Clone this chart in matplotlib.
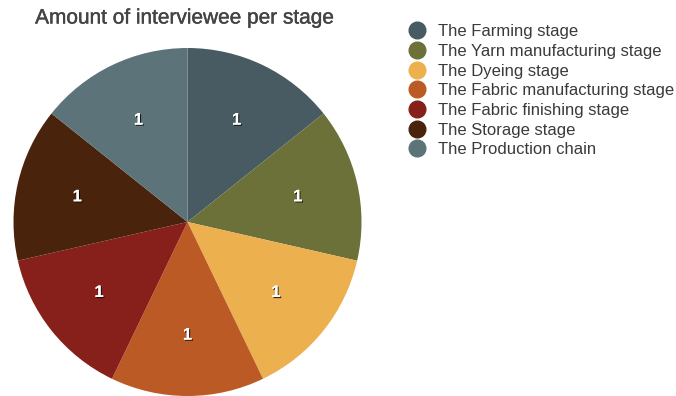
import matplotlib.pyplot as plt
import matplotlib.patheffects as pe
from matplotlib.lines import Line2D

plt.rcParams['font.family'] = ['Liberation Sans', 'DejaVu Sans']

# ---------------------------
# Data
# ---------------------------
stages = [
    "The Farming stage",
    "The Yarn manufacturing stage",
    "The Dyeing stage",
    "The Fabric manufacturing stage",
    "The Fabric finishing stage",
    "The Storage stage",
    "The Production chain",
]
interviewees = [1, 1, 1, 1, 1, 1, 1]
colors = ["#485b62", "#6b7139", "#edb04e", "#bb5a25", "#871f1a", "#4a230c", "#5c737a"]

# ---------------------------
# Figure
# ---------------------------
fig = plt.figure(figsize=(6.76, 3.96), dpi=100)
ax = fig.add_axes([13.5 / 676, 0, 348 / 676, 348 / 396])

wedges, texts = ax.pie(
    interviewees,
    colors=colors,
    labels=[str(v) for v in interviewees],
    labeldistance=0.65,
    startangle=90,
    counterclock=False,
    wedgeprops=dict(linewidth=0),
    textprops=dict(color="white", fontsize=12, fontweight="bold"),
)
for t in texts:
    t.set_horizontalalignment("center")
    t.set_path_effects([pe.withSimplePatchShadow(offset=(0.8, -0.8), shadow_rgbFace="black", alpha=0.8),
                        pe.Normal()])
ax.set_xlim(-1, 1)
ax.set_ylim(-1, 1)
ax.set_aspect("equal")
ax.axis("off")

fig.text(185 / 676, 1 - 18 / 396, "Amount of interviewee per stage",
         ha="center", va="center", fontsize=15, color="#444444",
         path_effects=[pe.withStroke(linewidth=0.3, foreground="#444444")])

# ---------------------------
# Legend
# ---------------------------
handles = [Line2D([], [], marker="o", linestyle="none", markersize=12,
                  markerfacecolor=c, markeredgecolor=c) for c in colors]
fig.legend(handles, stages, loc="upper left",
           bbox_to_anchor=(392 / 676, 1 - 16 / 396),
           frameon=False, fontsize=12, labelspacing=0.28,
           handletextpad=0.25, borderpad=0, labelcolor="#3a3a3a")

fig.savefig("out.png", dpi=100)
